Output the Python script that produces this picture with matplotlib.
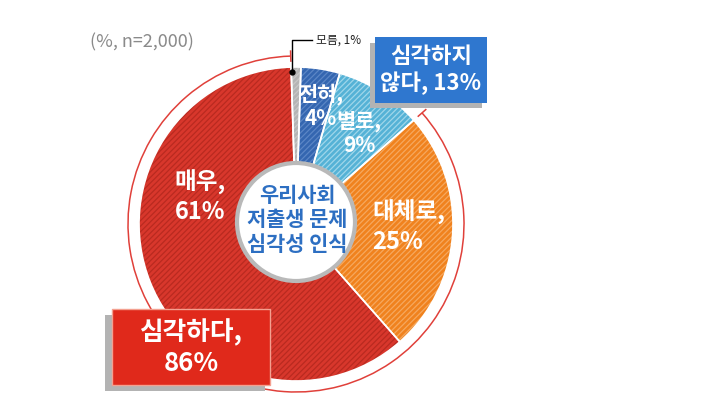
import matplotlib
matplotlib.use("Agg")
import matplotlib.pyplot as plt
from matplotlib.patches import Circle, Arc, Rectangle
import numpy as np

plt.rcParams['font.family'] = ['Noto Sans CJK KR', 'DejaVu Sans']
plt.rcParams['hatch.linewidth'] = 0.9

# data (clockwise from the top)
labels = ['모름', '전혀', '별로', '대체로', '매우']
values = [1, 4, 9, 25, 61]
fill_colors = ['#b4b4b4', '#3466b0', '#55b2d6', '#f0821e', '#d8372c']
stripe_colors = ['#c8c8c8', '#5b86c6', '#9fd6ea', '#f6a85e', '#b92a20']
group_labels = ['심각하지\n않다, 13%', '심각하다,\n86%']
note = '(%, n=2,000)'
center_title = '우리사회\n저출생 문제\n심각성 인식'

W, H = 715, 405
fig = plt.figure(figsize=(W / 100, H / 100), dpi=100)
ax = fig.add_axes([0, 0, 1, 1])


def Y(y):
    return H - y


cx, cy, R = 296, Y(224), 157
start = 90 + values[0] * 3.6 / 2

# hatched fill
wedges, _ = ax.pie(values, startangle=start, counterclock=False, center=(cx, cy), radius=R,
                   colors=fill_colors, wedgeprops=dict(linewidth=0), frame=True)
for w, sc in zip(wedges, stripe_colors):
    w.set_hatch('//////')
    w.set_edgecolor(sc)
# white borders on top
ax.pie(values, startangle=start, counterclock=False, center=(cx, cy), radius=R,
       colors=['none'] * len(values), wedgeprops=dict(linewidth=1.2, edgecolor='white'), frame=True)
ax.set_xlim(0, W)
ax.set_ylim(0, H)
ax.set_aspect('equal')
ax.axis('off')

# slice labels
lab = dict(color='white', fontweight='bold', va='center', zorder=4)
ax.text(321, Y(106), '전혀,\n4%', ha='center', fontsize=15, linespacing=1.2, **lab)
ax.text(359, Y(133), '별로,\n9%', ha='center', fontsize=15, linespacing=1.2, **lab)
ax.text(372, Y(227), '대체로,\n25%', ha='left', fontsize=17, linespacing=1.3, **lab)
ax.text(200, Y(197), '매우,\n61%', ha='center', fontsize=17, linespacing=1.3, **lab)

# center circle
ax.add_patch(Circle((cx, Y(222)), 59, facecolor='white', edgecolor='#b9b9b9', linewidth=3, zorder=5))
ax.text(cx + 1, Y(220), center_title, ha='center', va='center', color='#2d6fc2', fontsize=15,
        fontweight='bold', linespacing=1.2, zorder=6)

# outer red arc for 심각하다 (매우 + 대체로)
end = start - sum(values[:3]) * 3.6
r_ring = 168
ax.add_patch(Arc((cx, cy), 2 * r_ring, 2 * r_ring, theta1=start, theta2=end + 360,
                 color='#e0403a', linewidth=1.1))
for a in (start, end):
    t = np.deg2rad(a)
    ax.plot([cx + 163 * np.cos(t), cx + 173 * np.cos(t)], [cy + 163 * np.sin(t), cy + 173 * np.sin(t)],
            color='#e0403a', linewidth=1.1)

# 모름 leader
ax.plot([292, 292, 312], [Y(72), Y(40), Y(40)], color='black', linewidth=1)
ax.plot([292], [Y(72)], 'o', color='black', markersize=3.5)
ax.text(316, Y(40), '모름, 1%', ha='left', va='center', fontsize=8.5, color='#222222')

# group boxes
ax.add_patch(Rectangle((370, Y(108)), 112, 65, facecolor='#b3b3b3', edgecolor='none', zorder=7))
ax.add_patch(Rectangle((375, Y(103)), 112, 66, facecolor='#2f77cf', edgecolor='none', zorder=8))
ax.text(431, Y(70), group_labels[0], ha='center', va='center', color='white', fontsize=16,
        fontweight='bold', linespacing=1.15, zorder=9)

ax.add_patch(Rectangle((105, Y(391)), 160, 76, facecolor='#b3b3b3', edgecolor='none', zorder=7))
ax.add_patch(Rectangle((112, Y(385)), 158, 76, facecolor='#e0291b', edgecolor='#f4a090',
                       linewidth=1, zorder=8))
ax.text(191, Y(348), group_labels[1], ha='center', va='center', color='white', fontsize=18.5,
        fontweight='bold', linespacing=1.15, zorder=9)

ax.text(90, Y(42), note, ha='left', va='center', fontsize=13, color='#8a8a8a')

fig.savefig('out.png', dpi=100)
